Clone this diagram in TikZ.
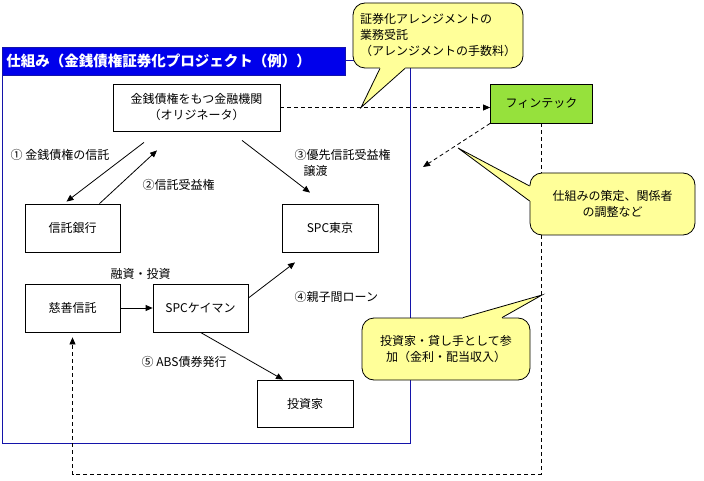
\documentclass[tikz,border=0pt]{standalone}
\usepackage{fontspec}
\setmainfont{Noto Sans CJK JP}
\usetikzlibrary{arrows.meta,calc}
\definecolor{callyellow}{RGB}{255,255,153}
\definecolor{fingreen}{RGB}{150,225,60}
\definecolor{titleblue}{RGB}{0,0,235}
\definecolor{framenavy}{RGB}{20,20,170}

\begin{document}
\begin{tikzpicture}[x=1pt,y=-1pt,line width=0.8pt,
    every node/.style={font=\fontsize{12}{16}\selectfont},
    box/.style={draw,fill=white,inner sep=0pt,minimum width=95pt,minimum height=48pt,align=center},
    arr/.style={-{Triangle[length=7pt,width=6pt]}},
    dsh/.style={dash pattern=on 4pt off 3pt},
    callbox/.style={draw,fill=callyellow,rounded corners=12pt,inner sep=0pt}]
          \useasboundingbox (0,0) rectangle (704,481);
          \coordinate (t1) at (361,107.5);
          \coordinate (t2) at (458,148);
          \coordinate (t3) at (542,295);
          \coordinate (fpt) at (423,167);
          \coordinate (ret) at (72.5,474);
          % frame and title bar
          \draw[framenavy] (2,60) rectangle (410,443);
          \node[anchor=north west,fill=titleblue,draw=framenavy,text=white,
                text width=335pt,inner xsep=4pt,minimum height=28pt,
                font=\fontsize{14.5}{16}\selectfont\bfseries] (title) at (2,47)
                {仕組み（金銭債権証券化プロジェクト（例））};
          % boxes
          \node[box,minimum width=167pt,minimum height=47pt] (orig) at (196.5,107.5)
                {金銭債権をもつ金融機関\\（オリジネータ）};
          \node[box] (bank) at (72.5,228) {信託銀行};
          \node[box,minimum width=96pt] (tokyo) at (330,228) {SPC東京};
          \node[box] (charity) at (72.5,308) {慈善信託};
          \node[box] (cayman) at (200.5,308) {SPCケイマン};
          \node[box,minimum width=96pt,minimum height=47pt] (inv) at (305,403.5) {投資家};
          \node[box,fill=fingreen,minimum width=102pt,minimum height=39pt] (fin) at (541.5,103.5) {フィンテック};
          % flows
          \draw[arr] ([xshift=-52.5pt,yshift=-11pt]orig.south) -- ([xshift=-6pt,yshift=2pt]bank.north);
          \draw[arr] ([xshift=27pt]bank.north) -- ([xshift=-39.5pt,yshift=-19pt]orig.south);
          \draw[arr] ([xshift=45.5pt,yshift=-9pt]orig.south) -- ([xshift=-20pt,yshift=11pt]tokyo.north);
          \draw[arr] (charity.east) -- (cayman.west);
          \draw[arr] ([yshift=10pt]cayman.east) -- ([xshift=-35pt,yshift=-10pt]tokyo.south);
          \draw[arr] (cayman.south) -- ([xshift=-22pt]inv.north);
          \node[anchor=west] (l1) at (7,155) {① 金銭債権の信託};
          \node[anchor=west] (l2) at (139,185) {②信託受益権};
          \node[anchor=west,align=left] (l3) at (291,162.5) {③優先信託受益権\\\hspace*{9pt}譲渡};
          \node[anchor=west] (l4) at (107,274) {融資・投資};
          \node[anchor=west] (l5) at (291,297) {④親子間ローン};
          \node[anchor=west] (l6) at (138,362) {⑤ ABS債券発行};
          % fintech links
          \draw[dsh,arr] (orig.east) -- (orig.east -| fin.west);
          \draw[dsh,arr] (fin.south west) -- (fpt);
          \draw[dsh,arr] (fin.south) |- (ret) -- ([yshift=-5pt]charity.south);
          % callouts
          \node[callbox,minimum width=170pt,minimum height=65pt,align=left] (call1) at (438,35.5)
                {証券化アレンジメントの\\業務受託\\（アレンジメントの手数料）};
          \fill[callyellow] ([xshift=-58pt,yshift=3pt]call1.south) -- ([xshift=-58pt]call1.south) -- (t1)
                -- ([xshift=-33pt]call1.south) -- ([xshift=-33pt,yshift=3pt]call1.south) -- cycle;
          \draw ([xshift=-58pt]call1.south) -- (t1) -- ([xshift=-33pt]call1.south);
          \node[callbox,minimum width=165pt,minimum height=62pt,align=center] (call2) at (612.5,204)
                {仕組みの策定、関係者\\の調整など};
          \fill[callyellow] ([xshift=3pt,yshift=18pt]call2.west) -- ([yshift=18pt]call2.west) -- (t2)
                -- ([yshift=3pt]call2.west) -- ([xshift=3pt,yshift=3pt]call2.west) -- cycle;
          \draw ([yshift=18pt]call2.west) -- (t2) -- ([yshift=3pt]call2.west);
          \node[callbox,minimum width=168pt,minimum height=62pt,align=center] (call3) at (446,349)
                {投資家・貸し手として参\\加（金利・配当収入）};
          \fill[callyellow] ([xshift=17pt,yshift=-3pt]call3.north) -- ([xshift=17pt]call3.north) -- (t3)
                -- ([xshift=56pt]call3.north) -- ([xshift=56pt,yshift=-3pt]call3.north) -- cycle;
          \draw ([xshift=17pt]call3.north) -- (t3) -- ([xshift=56pt]call3.north);
\end{tikzpicture}
\end{document}
